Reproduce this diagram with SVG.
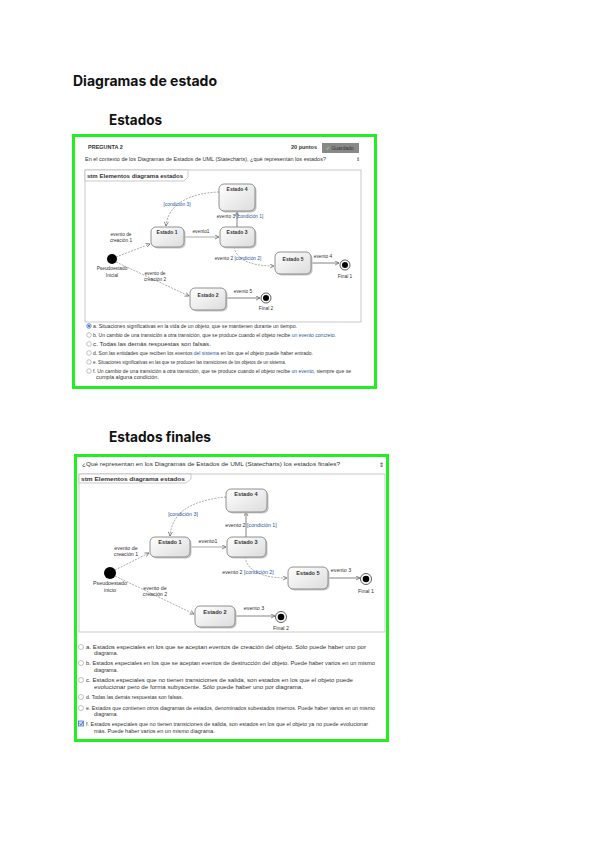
<svg xmlns="http://www.w3.org/2000/svg" width="600" height="848" viewBox="0 0 600 848">
<defs>
<linearGradient id="sg" x1="0" y1="0" x2="1" y2="1">
<stop offset="0" stop-color="#ffffff"/><stop offset="1" stop-color="#dcdcdc"/>
</linearGradient>
<marker id="ar" viewBox="0 0 10 10" refX="9" refY="5" markerWidth="5" markerHeight="5" markerUnits="userSpaceOnUse" orient="auto">
<path d="M1,1 L9,5 L1,9" fill="none" stroke="#666" stroke-width="1.5"/>
</marker>
<style>
.h{font-family:Inter,"Open Sans",sans-serif;font-weight:700;fill:#111}
.t{font-family:"Liberation Sans",Arial,sans-serif;fill:#333}
.b{font-weight:700}
.c{fill:#2a55a0}
.st rect.s{fill:url(#sg);stroke:#777;stroke-width:0.8}
.st rect.sh{fill:#c8c8c8}
.gb{fill:#fff;stroke:#22ee22;stroke-width:3}
.fr{fill:#fff;stroke:#bbb;stroke-width:0.8}
.dl{fill:none;stroke:#888;stroke-width:0.7;stroke-dasharray:2 1.2}
.sl{fill:none;stroke:#666;stroke-width:0.8}
.ll{fill:none;stroke:#aaa;stroke-width:1.1}
.rd{fill:#fff;stroke:#999;stroke-width:0.6}
</style>
</defs>
<rect width="600" height="848" fill="#fff"/>

<text class="h" x="73" y="86" font-size="14" textLength="144" lengthAdjust="spacingAndGlyphs">Diagramas de estado</text>
<text class="h" x="109" y="125" font-size="14" textLength="53" lengthAdjust="spacingAndGlyphs">Estados</text>
<text class="h" x="109" y="442" font-size="14" textLength="102" lengthAdjust="spacingAndGlyphs">Estados finales</text>

<!-- Screenshot 1 -->
<g id="shot1">
<rect class="gb" x="73.5" y="135.5" width="302" height="252"/>
<text class="t b" x="88" y="149" font-size="5.5">PREGUNTA 2</text>
<text class="t b" x="291" y="149" font-size="5.5" fill="#222">20 puntos</text>
<rect x="322" y="143" width="37" height="10" fill="#888"/>
<text class="t" x="326" y="150" font-size="5" fill="#fff"><tspan fill="#7f7">✓</tspan> Guardado</text>
<text class="t" x="85" y="161" font-size="5.2" textLength="241" lengthAdjust="spacingAndGlyphs">En el contexto de los Diagramas de Estados de UML (Statecharts), ¿qué representan los estados?</text>
<text class="t" x="356" y="161" font-size="5" fill="#999">⇕</text>
<rect class="fr" x="85" y="170" width="276" height="152"/>
<path d="M85,170 H188 V177 L184,181 H85 Z" fill="#fff" stroke="#bbb" stroke-width="0.8"/>
<text class="t b" x="87" y="178" font-size="5.2" textLength="96" lengthAdjust="spacingAndGlyphs">stm Elementos diagrama estados</text>
</g>

<g id="conn1">
<path class="dl" d="M116,257 L150,244" marker-end="url(#ar)"/>
<path class="dl" d="M116,262 L189,296" marker-end="url(#ar)"/>
<path class="ll" d="M184,237 H219" marker-end="url(#ar)"/>
<path class="sl" d="M237,227 V212" marker-end="url(#ar)"/>
<path class="dl" d="M219,192 C190,193 168,204 166,226" marker-end="url(#ar)"/>
<path class="dl" d="M234,247 C237,262 255,266 274,266" marker-end="url(#ar)"/>
<path class="sl" d="M311,263 H339" marker-end="url(#ar)"/>
<path class="sl" d="M226,298 H260" marker-end="url(#ar)"/>
<text class="t" x="177" y="206" font-size="4.8" text-anchor="middle"><tspan class="c">[condición 3]</tspan></text>
<text class="t" x="240" y="218" font-size="4.8" text-anchor="middle">evento 3 <tspan class="c">[condición 1]</tspan></text>
<text class="t" x="201" y="233" font-size="4.8" text-anchor="middle">evento1</text>
<text class="t" x="121" y="236" font-size="4.8" text-anchor="middle">evento de</text>
<text class="t" x="121" y="242" font-size="4.8" text-anchor="middle">creación 1</text>
<text class="t" x="155" y="275" font-size="4.8" text-anchor="middle">evento de</text>
<text class="t" x="155" y="281" font-size="4.8" text-anchor="middle">creación 2</text>
<text class="t" x="238" y="260" font-size="4.8" text-anchor="middle">evento 2 <tspan class="c">[condición 2]</tspan></text>
<text class="t" x="323" y="258" font-size="4.8" text-anchor="middle">evento 4</text>
<text class="t" x="243" y="293" font-size="4.8" text-anchor="middle">evento 5</text>
</g>

<g id="d1-estado4" class="st"><rect class="sh" x="220.5" y="185.5" width="36" height="27" rx="5"/><rect class="s" x="219" y="184" width="36" height="27" rx="5"/><text class="t b" x="237" y="191" font-size="5" text-anchor="middle">Estado 4</text></g>
<g id="d1-estado1" class="st"><rect class="sh" x="152.5" y="228.5" width="33" height="20" rx="5"/><rect class="s" x="151" y="227" width="33" height="20" rx="5"/><text class="t b" x="167" y="234" font-size="5" text-anchor="middle">Estado 1</text></g>
<g id="d1-estado3" class="st"><rect class="sh" x="221.5" y="228.5" width="35" height="20" rx="5"/><rect class="s" x="220" y="227" width="35" height="20" rx="5"/><text class="t b" x="237" y="234" font-size="5" text-anchor="middle">Estado 3</text></g>
<g id="d1-estado5" class="st"><rect class="sh" x="276.5" y="253.5" width="36" height="22" rx="5"/><rect class="s" x="275" y="252" width="36" height="22" rx="5"/><text class="t b" x="293" y="261" font-size="5" text-anchor="middle">Estado 5</text></g>
<g id="d1-estado2" class="st"><rect class="sh" x="191.5" y="289.5" width="36" height="22" rx="5"/><rect class="s" x="190" y="288" width="36" height="22" rx="5"/><text class="t b" x="208" y="297" font-size="5" text-anchor="middle">Estado 2</text></g>
<g id="d1-inicial"><circle cx="112" cy="259" r="5" fill="#000"/><text class="t" x="112" y="270" font-size="4.8" text-anchor="middle">Pseudoestado</text><text class="t" x="112" y="277" font-size="4.8" text-anchor="middle">Inicial</text></g>
<g id="d1-final1"><circle cx="345" cy="265" r="5" fill="#fff" stroke="#333" stroke-width="0.8"/><circle cx="345" cy="265" r="3" fill="#000"/><text class="t" x="345" y="278" font-size="4.8" text-anchor="middle">Final 1</text></g>
<g id="d1-final2"><circle cx="266" cy="298" r="5" fill="#fff" stroke="#333" stroke-width="0.8"/><circle cx="266" cy="298" r="3" fill="#000"/><text class="t" x="266" y="310" font-size="4.8" text-anchor="middle">Final 2</text></g>

<g id="opts1">
<circle cx="89" cy="326" r="2.3" fill="#cde" stroke="#36c" stroke-width="0.6"/><circle cx="89" cy="326" r="1" fill="#36c"/>
<text class="t" x="93" y="328" font-size="5" textLength="204" lengthAdjust="spacingAndGlyphs">a. Situaciones significativas en la vida de un objeto, que se mantienen durante un tiempo.</text>
<circle class="rd" cx="89" cy="335" r="2.3"/>
<text class="t" x="93" y="337" font-size="5" textLength="243" lengthAdjust="spacingAndGlyphs">b. Un cambio de una transición a otra transición, que se produce cuando el objeto recibe <tspan class="c">un evento concreto.</tspan></text>
<circle class="rd" cx="89" cy="344" r="2.3"/>
<text class="t" x="93" y="346" font-size="5.4" textLength="118" lengthAdjust="spacingAndGlyphs">c. Todas las demás respuestas son falsas.</text>
<circle class="rd" cx="89" cy="353" r="2.3"/>
<text class="t" x="93" y="355" font-size="5" textLength="220" lengthAdjust="spacingAndGlyphs">d. Son las entidades que reciben los eventos <tspan class="c">del sistema</tspan> en los que el objeto puede haber entrado.</text>
<circle class="rd" cx="89" cy="362" r="2.3"/>
<text class="t" x="93" y="364" font-size="5" textLength="193" lengthAdjust="spacingAndGlyphs">e. Situaciones significativas en las que se producen las transiciones de los objetos de un sistema.</text>
<circle class="rd" cx="89" cy="371" r="2.3"/>
<text class="t" x="93" y="373" font-size="5" textLength="258" lengthAdjust="spacingAndGlyphs">f. Un cambio de una transición a otra transición, que se produce cuando el objeto recibe <tspan class="c">un evento</tspan>, siempre que se</text>
<text class="t" x="96" y="379" font-size="5" textLength="63" lengthAdjust="spacingAndGlyphs">cumpla alguna condición.</text>
</g>

<!-- Screenshot 2 -->
<g id="shot2">
<rect class="gb" x="75.5" y="455.5" width="312" height="285"/>
<text class="t" x="82" y="466" font-size="5.8" textLength="258" lengthAdjust="spacingAndGlyphs">¿Qué representan en los Diagramas de Estados de UML (Statecharts) los estados finales?</text>
<text class="t" x="379" y="467" font-size="5.5" fill="#999">⇕</text>
<rect class="fr" x="79" y="474" width="306" height="158"/>
<path d="M79,474 H191 V479 L186,483 H79 Z" fill="#fff" stroke="#bbb" stroke-width="0.8"/>
<text class="t b" x="81" y="481" font-size="5.6" textLength="104" lengthAdjust="spacingAndGlyphs">stm Elementos diagrama estados</text>
</g>

<g id="conn2">
<path class="dl" d="M115,570 L149,553" marker-end="url(#ar)"/>
<path class="dl" d="M115,576 L194,614" marker-end="url(#ar)"/>
<path class="ll" d="M190,547 H226" marker-end="url(#ar)"/>
<path class="sl" d="M246,537 V512" marker-end="url(#ar)"/>
<path class="dl" d="M226,497 C195,500 172,510 170,536" marker-end="url(#ar)"/>
<path class="dl" d="M245,557 C248,574 268,578 287,578" marker-end="url(#ar)"/>
<path class="sl" d="M328,578 H360" marker-end="url(#ar)"/>
<path class="sl" d="M235,616 H275" marker-end="url(#ar)"/>
<text class="t" x="183" y="516" font-size="5.3" text-anchor="middle"><tspan class="c">[condición 3]</tspan></text>
<text class="t" x="251" y="527" font-size="5.3" text-anchor="middle">evento 2 <tspan class="c">[condición 1]</tspan></text>
<text class="t" x="208" y="543" font-size="5.3" text-anchor="middle">evento1</text>
<text class="t" x="126" y="550" font-size="5.3" text-anchor="middle">evento de</text>
<text class="t" x="126" y="556" font-size="5.3" text-anchor="middle">creación 1</text>
<text class="t" x="155" y="590" font-size="5.3" text-anchor="middle">evento de</text>
<text class="t" x="155" y="596" font-size="5.3" text-anchor="middle">creación 2</text>
<text class="t" x="248" y="574" font-size="5.3" text-anchor="middle">evento 2 <tspan class="c">[condición 2]</tspan></text>
<text class="t" x="341" y="572" font-size="5.3" text-anchor="middle">evento 3</text>
<text class="t" x="254" y="610" font-size="5.3" text-anchor="middle">evento 3</text>
</g>

<g id="d2-estado4" class="st"><rect class="sh" x="227.5" y="490.5" width="41" height="23" rx="5"/><rect class="s" x="226" y="489" width="41" height="23" rx="5"/><text class="t b" x="246" y="496" font-size="5.6" text-anchor="middle">Estado 4</text></g>
<g id="d2-estado1" class="st"><rect class="sh" x="151.5" y="538.5" width="40" height="20" rx="5"/><rect class="s" x="150" y="537" width="40" height="20" rx="5"/><text class="t b" x="170" y="544" font-size="5.6" text-anchor="middle">Estado 1</text></g>
<g id="d2-estado3" class="st"><rect class="sh" x="228.5" y="538.5" width="39" height="20" rx="5"/><rect class="s" x="227" y="537" width="39" height="20" rx="5"/><text class="t b" x="246" y="544" font-size="5.6" text-anchor="middle">Estado 3</text></g>
<g id="d2-estado5" class="st"><rect class="sh" x="289.5" y="568.5" width="40" height="22" rx="5"/><rect class="s" x="288" y="567" width="40" height="22" rx="5"/><text class="t b" x="308" y="575" font-size="5.6" text-anchor="middle">Estado 5</text></g>
<g id="d2-estado2" class="st"><rect class="sh" x="196.5" y="607.5" width="40" height="21" rx="5"/><rect class="s" x="195" y="606" width="40" height="21" rx="5"/><text class="t b" x="215" y="614" font-size="5.6" text-anchor="middle">Estado 2</text></g>
<g id="d2-inicial"><circle cx="110" cy="573" r="6" fill="#000"/><text class="t" x="110" y="585" font-size="5.3" text-anchor="middle">Pseudoestado</text><text class="t" x="110" y="592" font-size="5.3" text-anchor="middle">inicio</text></g>
<g id="d2-final1"><circle cx="366" cy="579" r="5.5" fill="#fff" stroke="#333" stroke-width="0.8"/><circle cx="366" cy="579" r="3.3" fill="#000"/><text class="t" x="366" y="593" font-size="5.3" text-anchor="middle">Final 1</text></g>
<g id="d2-final2"><circle cx="281" cy="617" r="5.5" fill="#fff" stroke="#333" stroke-width="0.8"/><circle cx="281" cy="617" r="3.3" fill="#000"/><text class="t" x="281" y="630" font-size="5.3" text-anchor="middle">Final 2</text></g>

<g id="opts2">
<circle class="rd" cx="81" cy="647" r="2.5"/>
<text class="t" x="86" y="649" font-size="5.5" textLength="280" lengthAdjust="spacingAndGlyphs">a. Estados especiales en los que se aceptan eventos de creación del objeto. Sólo puede haber uno por</text>
<text class="t" x="94" y="655" font-size="5.5" textLength="24" lengthAdjust="spacingAndGlyphs">diagrama.</text>
<circle class="rd" cx="81" cy="663" r="2.5"/>
<text class="t" x="86" y="665" font-size="5.5" textLength="289" lengthAdjust="spacingAndGlyphs">b. Estados especiales en los que se aceptan eventos de destrucción del objeto. Puede haber varios en un mismo</text>
<text class="t" x="94" y="672" font-size="5.5" textLength="24" lengthAdjust="spacingAndGlyphs">diagrama.</text>
<circle class="rd" cx="81" cy="680" r="2.5"/>
<text class="t" x="86" y="682" font-size="5.5" textLength="267" lengthAdjust="spacingAndGlyphs">c. Estados especiales que no tienen transiciones de salida, son estados en los que el objeto puede</text>
<text class="t" x="94" y="689" font-size="5.5" textLength="209" lengthAdjust="spacingAndGlyphs">evolucionar pero de forma subyacente. Sólo puede haber uno por diagrama.</text>
<circle class="rd" cx="81" cy="697" r="2.5"/>
<text class="t" x="86" y="699" font-size="5.5" textLength="97" lengthAdjust="spacingAndGlyphs">d. Todas las demás respuestas son falsas.</text>
<circle class="rd" cx="81" cy="708" r="2.5"/>
<text class="t" x="86" y="710" font-size="5.5" textLength="289" lengthAdjust="spacingAndGlyphs">e. Estados que contienen otros diagramas de estados, denominados subestados internos. Puede haber varios en un mismo</text>
<text class="t" x="94" y="716" font-size="5.5" textLength="24" lengthAdjust="spacingAndGlyphs">diagrama.</text>
<rect x="78.5" y="721" width="5" height="5" fill="#cde" stroke="#36c" stroke-width="0.7"/><path d="M79.5,723.5 L81,725 L83,721.8" fill="none" stroke="#36c" stroke-width="0.8"/>
<text class="t" x="86" y="726" font-size="5.5" textLength="282" lengthAdjust="spacingAndGlyphs">f. Estados especiales que no tienen transiciones de salida, son estados en los que el objeto ya no puede evolucionar</text>
<text class="t" x="94" y="733" font-size="5.5" textLength="121" lengthAdjust="spacingAndGlyphs">más. Puede haber varios en un mismo diagrama.</text>
</g>
</svg>
